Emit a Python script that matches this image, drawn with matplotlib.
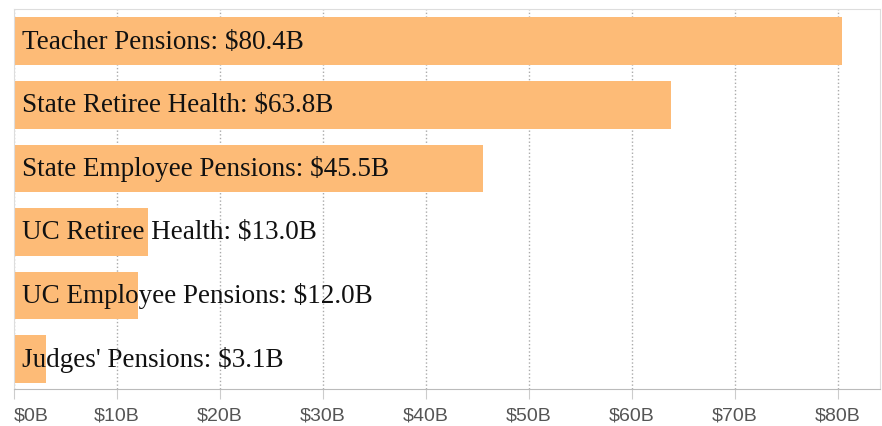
import matplotlib.pyplot as plt
from matplotlib.ticker import FuncFormatter

# Datos
categorias = ["Teacher Pensions", "State Retiree Health", "State Employee Pensions",
              "UC Retiree Health", "UC Employee Pensions", "Judges' Pensions"]
valores = [80.4, 63.8, 45.5, 13.0, 12.0, 3.1]
ticks = [0, 10, 20, 30, 40, 50, 60, 70, 80]

fig = plt.figure(figsize=(8.82, 4.27), dpi=100)
ax = fig.add_axes([0.016, 0.087, 0.982, 0.89])

y = list(range(len(categorias)))
ax.barh(y, valores, height=0.75, color='#FDBB77', zorder=2)

for yi, cat, val in zip(y, categorias, valores):
    ax.annotate(f'{cat}: ${val:.1f}B', xy=(0, yi), xytext=(6, 0),
                textcoords='offset points', va='center', ha='left',
                fontsize=19.5, family='Liberation Serif', color='#111111', zorder=3)

ax.set_xlim(0, 84.1)
ax.set_ylim(5.47, -0.51)
ax.set_xticks(ticks)
ax.xaxis.set_major_formatter(FuncFormatter(lambda v, p: f'${v:.0f}B'))
ax.set_yticks([])
ax.tick_params(axis='x', length=7, color='#cccccc', labelsize=14,
               labelcolor='#555555', pad=6)
etiquetas = ax.get_xticklabels()
for lbl in etiquetas:
    lbl.set_family('Liberation Sans')
etiquetas[0].set_horizontalalignment('left')
etiquetas[0].set_x(0.3)

ax.grid(axis='x', linestyle=':', color='#aaaaaa', linewidth=1, zorder=0)
for s in ['top', 'left', 'right']:
    ax.spines[s].set_color('#dddddd')
ax.spines['bottom'].set_color('#bbbbbb')

fig.savefig('out.png', dpi=100)
